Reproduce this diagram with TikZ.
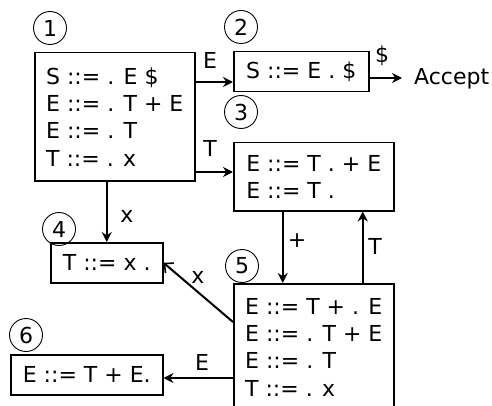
\documentclass[tikz,border=0pt]{standalone}
\usepackage{fontspec}
\setmainfont{DejaVu Sans}
\usetikzlibrary{arrows.meta}
\begin{document}
\begin{tikzpicture}[x=1pt,y=-1pt,
  every node/.style={font=\fontsize{22}{27.3}\selectfont},
  box/.style={draw, line width=1.5pt, anchor=north west, align=left, inner xsep=0pt, inner ysep=0pt},
  num/.style={draw, circle, line width=0.9pt, minimum size=33pt, inner sep=0pt},
  arr/.style={line width=2pt, -{Stealth[length=10pt,width=10pt]}},
  barb/.style={line width=2pt, -{Straight Barb[length=7pt,width=13pt,line width=1.6pt]}},
  lbl/.style={inner sep=0pt}]
\clip (0,0) rectangle (492,406);
% boxes
\node[box, minimum width=160pt, minimum height=128pt] (b1) at (34,52) {S ::= . E \$\\E ::= . T + E\\E ::= . T\\T ::= . x};
\node[box, minimum width=135pt, minimum height=40pt] (b2) at (233,51) {S ::= E . \$};
\node[box, minimum width=160pt, minimum height=68pt] (b3) at (233,142) {E ::= T . + E\\E ::= T .};
\node[box, minimum width=112pt, minimum height=40pt] (b4) at (50,242) {T ::= x .};
\node[box, minimum width=160pt, minimum height=127pt] (b5) at (233,283) {E ::= T + . E\\E ::= . T + E\\E ::= . T\\T ::= . x};
\node[box, minimum width=152pt, minimum height=40pt] (b6) at (10,354) {E ::= T + E.};
\node[lbl, anchor=base west] (acc) at (414,85) {Accept};
% state numbers
\node[num] (c1) at (50,28) {1};
\node[num] (c2) at (241,27) {2};
\node[num] (c3) at (241,112) {3};
\node[num] (c4) at (59,229) {4};
\node[num] (c5) at (242,266) {5};
\node[num] (c6) at (26,335) {6};
% connectors
\draw[arr] ([yshift=-30pt]b1.north east) coordinate (p1) -- (p1 -| b2.west);
\draw[arr] ([yshift=-120pt]b1.north east) coordinate (p2) -- (p2 -| b3.west);
\draw[arr, shorten >=12pt] ([yshift=-27pt]b2.north east) coordinate (p3) -- (p3 -| acc.west);
\draw[arr] (b1.south -| b4.north) -- (b4.north);
\draw[arr] ([xshift=-31pt]b3.south) coordinate (p4) -- (p4 |- b5.north);
\draw[arr] ([xshift=49pt]b5.north) coordinate (p5) -- (p5 |- b3.south);
\draw[barb] ([yshift=-39pt]b5.north west) -- (b4.east);
\draw[arr] ([yshift=-95pt]b5.north west) coordinate (p6) -- (p6 -| b6.east);
% labels
\node[lbl] (lE1) at (210,60) {E};
\node[lbl] (lT1) at (210,148) {T};
\node[lbl] (lD) at (382,56) {\$};
\node[lbl] (lx1) at (127,216) {x};
\node[lbl] (lP) at (297,241) {+};
\node[lbl] (lT2) at (375,246) {T};
\node[lbl] (lx2) at (198,277) {x};
\node[lbl] (lE2) at (202,362) {E};
\end{tikzpicture}
\end{document}
